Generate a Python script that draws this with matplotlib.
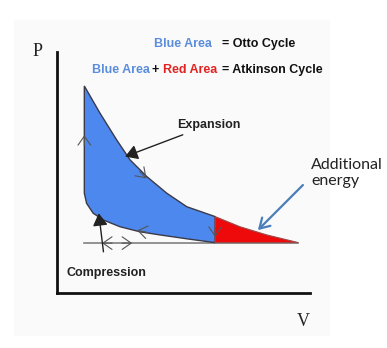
import numpy as np
import matplotlib.pyplot as plt
from matplotlib.patches import Polygon, Rectangle

# Expansion stroke (V, P): from peak pressure down to where the Otto exhaust opens
exp_v = [1.08, 1.70, 2.36, 2.89, 3.55, 4.34, 5.13, 6.25]
exp_p = [8.59, 7.46, 6.35, 5.52, 4.83, 4.14, 3.58, 3.17]

# Extended expansion of the Atkinson cycle
ext_v = [6.25, 7.23, 8.29, 9.54]
ext_p = [3.17, 2.75, 2.41, 2.09]

# Compression stroke, from bottom dead centre back to the start of combustion
comp_v = [6.25, 5.26, 4.07, 3.28, 2.49, 1.83, 1.43, 1.17, 1.08]
comp_p = [2.09, 2.23, 2.41, 2.54, 2.75, 3.03, 3.31, 3.72, 4.14]

# Direction marks along the cycle: (V, P, dV, dP)
chevrons = [
    (1.08, 6.35, 0.0, 1.0),
    (3.40, 4.90, 1.0, -1.05),
    (6.25, 2.53, 0.0, -1.0),
    (3.36, 2.56, -1.0, 0.2),
    (1.98, 2.07, -1.0, 0.0),
    (2.77, 2.07, 1.0, 0.0),
]

blue = '#4d88ee'
red = '#ee0a0a'

fig = plt.figure(figsize=(3.87, 3.48), dpi=100)
fig.patches.append(Rectangle((14 / 387, 1 - 335 / 348), 315 / 387, 315 / 348,
                             transform=fig.transFigure, color='#fafafa', zorder=-5))

ax = fig.add_axes([57 / 387, 55 / 348, 253 / 387, 241 / 348])
ax.set_facecolor('none')
ax.set_xlim(0, 10)
ax.set_ylim(0, 10)
ax.set_xticks([])
ax.set_yticks([])
for side in ['top', 'right']:
    ax.spines[side].set_visible(False)
for side in ['left', 'bottom']:
    ax.spines[side].set_linewidth(2)
    ax.spines[side].set_color('#111111')

# Otto cycle area
otto = list(zip(exp_v, exp_p)) + list(zip(comp_v, comp_p))
ax.add_patch(Polygon(otto, closed=True, facecolor=blue, edgecolor='#3a3a4a', lw=1, zorder=2))

# extra work from the longer expansion
extra = list(zip(ext_v, ext_p)) + [(ext_v[0], ext_p[-1])]
ax.add_patch(Polygon(extra, closed=True, facecolor=red, edgecolor='#9a4a4a', lw=0.8, zorder=2))

# intake / exhaust line
ax.plot([comp_v[-1], ext_v[-1]], [ext_p[-1], ext_p[-1]], color='#808080', lw=1.2, zorder=1)

for v, p, dv, dp in chevrons:
    n = np.hypot(dv, dp)
    dv, dp = dv / n * 0.2, dp / n * 0.2
    ax.annotate('', xy=(v + dv, p + dp), xytext=(v - dv, p - dp),
                arrowprops=dict(arrowstyle='->,head_length=0.5,head_width=0.35',
                                color='#555555', lw=0.8, shrinkA=0, shrinkB=0,
                                mutation_scale=13),
                zorder=3)

lab = dict(fontsize=9, fontweight='bold', family='Liberation Sans', color='#222222')
ax.annotate('Expansion', xy=(2.69, 5.66), xytext=(4.74, 6.97), va='center', ha='left',
            arrowprops=dict(arrowstyle='-|>,head_length=0.5,head_width=0.3', color='#222222',
                            lw=1, mutation_scale=15, shrinkA=2, shrinkB=0),
            annotation_clip=False, **lab)
ax.annotate('Compression', xy=(1.65, 3.31), xytext=(0.36, 0.83), va='center', ha='left',
            arrowprops=dict(arrowstyle='-|>,head_length=0.5,head_width=0.3', color='#222222',
                            lw=1, mutation_scale=15, shrinkA=9, shrinkB=0),
            annotation_clip=False, **lab)

ax.annotate('', xy=(7.94, 2.61), xytext=(9.72, 4.48),
            arrowprops=dict(arrowstyle='->,head_length=0.5,head_width=0.3',
                            color='#4a7ebb', lw=1.6, shrinkA=0, shrinkB=0,
                            mutation_scale=14),
            annotation_clip=False)
fig.text(311 / 387, 1 - 173 / 348, 'Additional\nenergy', ha='left', va='center',
         fontsize=11.5, family='Lato', color='#222222', linespacing=1.25)

# axis letters
fig.text(38 / 387, 1 - 52 / 348, 'P', ha='center', va='center', fontsize=13,
         family='Liberation Serif', color='#222222')
fig.text(303 / 387, 1 - 321 / 348, 'V', ha='center', va='center', fontsize=13,
         family='Liberation Serif', color='#222222')

# legend lines at the top
head = dict(fontsize=9, fontweight='bold', family='Liberation Sans', va='center', ha='left')
light_blue = '#5a8ddb'
fig.text(154 / 387, 1 - 44 / 348, 'Blue Area', color=light_blue, **head)
fig.text(222 / 387, 1 - 44 / 348, '= Otto Cycle', color='#111111', **head)
fig.text(92 / 387, 1 - 70 / 348, 'Blue Area', color=light_blue, **head)
fig.text(152 / 387, 1 - 70 / 348, '+', color='#111111', **head)
fig.text(163 / 387, 1 - 70 / 348, 'Red Area', color='#e32121', **head)
fig.text(222 / 387, 1 - 70 / 348, '= Atkinson Cycle', color='#111111', **head)

fig.savefig('out.png', dpi=100)
